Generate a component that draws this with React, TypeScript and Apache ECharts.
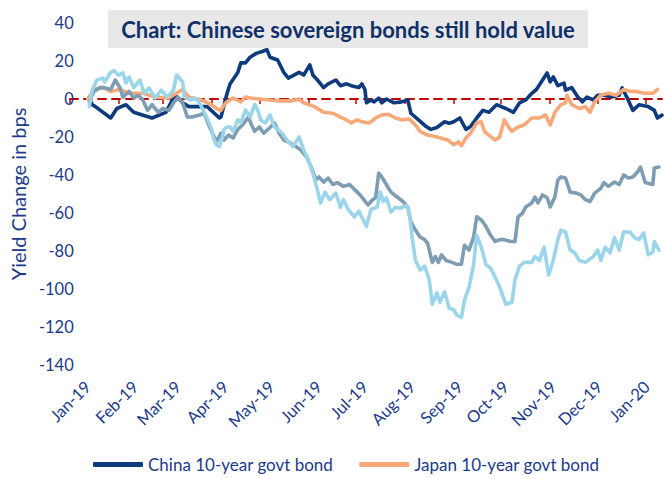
import React, { useEffect, useRef } from "react";
import * as echarts from "echarts";

// x positions are days since 1 Jan 2019
const monthStarts = [0, 31, 59, 90, 120, 151, 181, 212, 243, 273, 304, 334, 365];
const monthLabels = ["Jan-19", "Feb-19", "Mar-19", "Apr-19", "May-19", "Jun-19", "Jul-19", "Aug-19", "Sep-19", "Oct-19", "Nov-19", "Dec-19", "Jan-20"];

const chinaDays = [1, 3, 5, 15, 19, 25, 30, 42, 51, 57, 62, 66, 74, 78, 86, 87, 91, 93, 98, 100, 103, 106, 110, 114, 117, 119, 124, 128, 131, 138, 141, 145, 147, 150, 154, 157, 162, 165, 169, 172, 177, 179, 181, 182, 185, 187, 190, 192, 195, 200, 205, 209, 211, 216, 221, 224, 228, 233, 236, 239, 243, 247, 250, 254, 258, 262, 267, 273, 278, 282, 286, 290, 293, 297, 300, 302, 304, 307, 311, 312, 316, 320, 323, 326, 330, 333, 337, 342, 347, 349, 352, 356, 360, 366, 370, 372, 375];
const chinaVals = [0, -3, -4, -10, -5, -3, -7, -10, -7, 2, -2, -4, -4, -4, -10, -9.5, 3, 8, 14, 19, 19, 22, 24, 25, 26, 22, 20.5, 14, 11, 14, 12.6, 18, 12.6, 10, 6, 8, 10, 7, 8, 7, 6, 8, 5, -2, -0.5, -1.5, 0.5, -2, 0, -2, -1.5, -0.5, -7.5, -11, -14.5, -16, -15, -12, -12.8, -12, -10, -16, -14.5, -10, -6, -7, -3, -5, -7, -2, -0.5, 3, 5, 10, 13.7, 9, 11.6, 7, 8.4, 4.7, 6, 1, -1.5, 1, -0.5, 2, 2, 1, 2, 5.8, 1, -6, -3, -4, -6, -10, -8.5];

const japanDays = [0, 4, 10, 15, 21, 27, 36, 44, 53, 62, 66, 74, 81, 84, 87, 89, 91, 95, 100, 103, 106, 112, 119, 125, 133, 138, 141, 148, 154, 160, 165, 169, 172, 176, 179, 184, 188, 192, 196, 201, 205, 210, 214, 217, 222, 228, 235, 239, 242, 244, 247, 250, 254, 257, 259, 262, 266, 269, 272, 275, 277, 281, 285, 290, 295, 299, 302, 305, 309, 312, 313, 316, 321, 325, 328, 331, 335, 340, 345, 350, 354, 358, 364, 369, 372];
const japanVals = [0, 5, 6, 4, 5, 3, 3, 1, 0.5, 5, 1, -0.5, -3, -5, -6, -3, -1.5, 0.5, -1.5, 1, 0.5, 0, -0.5, -1, -1, 0, -2, -4, -7, -7.5, -9.5, -11, -12.6, -11, -12, -12.6, -10, -8.4, -8, -10, -11, -10.5, -13.7, -17, -19, -20, -21.6, -24, -22.6, -24.7, -20.5, -18, -12.6, -12, -17, -19, -21.6, -20, -11, -15, -17, -14.7, -13.7, -10, -10, -8.4, -13.7, -7, -3, -2, 2, -3, -5, -4, -7, -1.5, 2, 3, 2, 5, 4, 4, 3, 3, 5];

const series3Days = [1, 4, 8, 11, 15, 18, 21, 23, 27, 30, 33, 36, 39, 42, 46, 49, 53, 56, 59, 62, 65, 68, 73, 76, 79, 82, 84, 87, 89, 92, 95, 98, 101, 105, 107, 109, 112, 115, 119, 122, 125, 128, 132, 136, 139, 143, 146, 149, 151, 154, 157, 160, 163, 167, 171, 176, 179, 183, 186, 188, 190, 192, 195, 198, 202, 206, 209, 211, 214, 217, 220, 222, 225, 227, 229, 231, 234, 238, 241, 244, 246, 249, 252, 254, 257, 260, 263, 266, 269, 272, 276, 279, 281, 284, 286, 290, 292, 294, 297, 300, 302, 305, 307, 309, 312, 315, 319, 322, 325, 328, 331, 335, 337, 340, 344, 347, 350, 353, 356, 359, 361, 364, 369, 370, 373];
const series3Vals = [-1.5, 4, 6, 6, 5, 10, 6, 1, 4, 0.5, 2, -0.5, -6, -3, -7, -5, -6, -2, 1, -2, -9.5, -9.5, -8.4, -7.5, -13.7, -19, -22.6, -18, -21.6, -19, -20.5, -16, -13.7, -9.5, -13.7, -17, -14.7, -18, -15, -12.6, -18, -21.6, -23, -25, -26.8, -30.5, -36, -42.6, -41, -43.7, -41.6, -45, -44, -46, -45, -49, -51.6, -55.8, -53, -52, -39, -41, -45, -49, -51.6, -54, -57, -64.7, -69, -72.6, -74, -76, -86, -83, -86, -82, -85, -86, -87, -87, -77, -79.5, -72.6, -62, -63.7, -67, -71.6, -75, -74, -74, -75, -75, -62, -60, -56.8, -54.7, -51.6, -54.7, -50.5, -52, -56.8, -51.6, -42.6, -41, -41.6, -49, -49.5, -50.5, -53, -54, -49.5, -47, -44, -46, -43.7, -45, -40, -41.6, -41, -38.4, -35.8, -44, -45, -36.3, -35.8];

const series4Days = [1, 3, 6, 10, 11, 15, 17, 20, 23, 25, 27, 30, 34, 37, 40, 44, 48, 52, 56, 58, 62, 63, 67, 70, 73, 77, 81, 82, 84, 86, 88, 89, 91, 93, 95, 98, 100, 103, 106, 109, 111, 113, 116, 119, 122, 127, 131, 134, 138, 141, 144, 147, 150, 152, 155, 158, 162, 165, 167, 170, 174, 177, 182, 185, 189, 191, 193, 195, 198, 201, 204, 208, 210, 212, 214, 217, 220, 223, 225, 228, 230, 233, 236, 239, 241, 244, 246, 249, 252, 254, 257, 260, 263, 266, 269, 273, 277, 279, 282, 285, 290, 292, 295, 298, 301, 304, 307, 309, 312, 315, 318, 321, 325, 330, 333, 335, 338, 341, 344, 347, 350, 354, 357, 360, 363, 366, 369, 370, 373];
const series4Vals = [-4, 5, 10, 11, 9, 14, 15, 12.6, 13.7, 8.4, 11.6, 6, 10, 3, 5.8, 0.5, 4.7, 1, 4.7, 12.6, 9, 1, -0.5, 0.5, -2, -8.4, -16, -20.5, -24, -25, -20, -16, -14.7, -14.7, -17, -11, -12.6, -5.8, -9.5, -3, -5.8, -11, -12.6, -8.4, -14.7, -18, -22.6, -25, -20, -26.8, -32, -39, -48, -54.7, -49, -53, -49.5, -57, -53, -58, -62, -59, -67, -58, -57, -49, -54, -52, -59.5, -57, -57.5, -56, -60, -74, -85, -90, -88, -95, -108, -102, -107, -101.5, -110, -111, -113.7, -115, -106, -99, -87, -71.6, -78, -87, -89, -93.7, -99, -108, -107, -95, -88, -86, -86, -83, -85, -78, -92.6, -85, -74, -69, -70, -79.5, -81, -85, -86, -83, -79.5, -85, -78, -81, -73, -79.5, -70, -70, -73, -74, -70.5, -82, -80.5, -75, -79.5];

const pairs = (d: number[], v: number[]) => d.map((x, i) => [x, v[i]]);

const NAVY_TEXT = "#203A8A";

export default function App() {
  const ref = useRef<HTMLDivElement>(null);
  useEffect(() => {
    if (!ref.current) return;
    const chart = echarts.init(ref.current, null, { renderer: "svg" });
    const font = "Lato, 'Open Sans', sans-serif";
    const lineSeries = (name: string, data: number[][], color: string) => ({
      name,
      type: "line",
      xAxisIndex: 0,
      yAxisIndex: 0,
      data,
      showSymbol: false,
      symbol: "none",
      lineStyle: { color, width: 3.6, cap: "round", join: "round" },
      itemStyle: { color },
      z: 3,
    });
    chart.setOption({
      animation: false,
      backgroundColor: "#ffffff",
      textStyle: { fontFamily: font },
      grid: [
        { left: 70, right: 3, top: 23, bottom: 114 },
        { left: 70, right: 3, top: 23, bottom: 114 },
      ],
      xAxis: [
        {
          type: "value",
          gridIndex: 0,
          min: 0,
          max: 375,
          position: "bottom",
          axisLine: { show: false, onZero: false },
          axisTick: { show: false },
          splitLine: { show: false },
          axisLabel: {
            customValues: monthStarts,
            rotate: 45,
            margin: 19,
            color: NAVY_TEXT,
            fontSize: 16.5,
            fontFamily: font,
            formatter: (v: number) => {
              const i = monthStarts.indexOf(Math.round(v));
              return i >= 0 ? monthLabels[i] : "";
            },
          },
        },
        {
          type: "value",
          gridIndex: 1,
          min: 0,
          max: 375,
          position: "bottom",
          axisLine: { show: true, onZero: true, lineStyle: { color: "#C00000", width: 2, type: [8, 6] } },
          axisTick: { show: true, customValues: monthStarts, length: 5, inside: false, lineStyle: { color: "#C00000", width: 1.5 } },
          axisLabel: { show: false },
          splitLine: { show: false },
        },
      ],
      yAxis: [
        {
          type: "value",
          gridIndex: 0,
          min: -140,
          max: 40,
          interval: 20,
          axisLine: { show: false },
          axisTick: { show: false },
          splitLine: { show: false },
          axisLabel: { color: NAVY_TEXT, fontSize: 16.5, fontFamily: font, margin: 14 },
          name: "Yield Change in bps",
          nameLocation: "middle",
          nameGap: 44,
          nameRotate: 90,
          nameTextStyle: { color: NAVY_TEXT, fontSize: 20, fontFamily: font },
        },
        {
          type: "value",
          gridIndex: 1,
          min: -140,
          max: 40,
          interval: 20,
          show: false,
        },
      ],
      legend: {
        data: ["China 10-year govt bond", "Japan 10-year govt bond"],
        left: 88,
        top: 451,
        icon: "roundRect",
        itemWidth: 50,
        itemHeight: 5,
        itemGap: 26,
        textStyle: { color: NAVY_TEXT, fontSize: 17, fontFamily: font },
      },
      series: [
        lineSeries("China 10-year govt bond", pairs(chinaDays, chinaVals), "#0D3B7D"),
        lineSeries("Japan 10-year govt bond", pairs(japanDays, japanVals), "#F9A87A"),
        lineSeries("Series 3", pairs(series3Days, series3Vals), "#7F9DB2"),
        lineSeries("Series 4", pairs(series4Days, series4Vals), "#9AD5EA"),
      ],
      graphic: [
        {
          type: "rect",
          left: 108,
          top: 10,
          shape: { width: 480, height: 38 },
          style: { fill: "#E8E8E8" },
          z: 10,
        },
        {
          type: "text",
          x: 348,
          y: 29,
          style: {
            text: "Chart: Chinese sovereign bonds still hold value",
            fill: "#10306A",
            font: "bold 22px Lato, 'Open Sans', sans-serif",
            textAlign: "center",
            textVerticalAlign: "middle",
          },
          z: 11,
        },
      ],
    });
    return () => chart.dispose();
  }, []);
  return <div ref={ref} style={{ position: "absolute", left: 0, top: 0, width: 665, height: 479 }} />;
}
